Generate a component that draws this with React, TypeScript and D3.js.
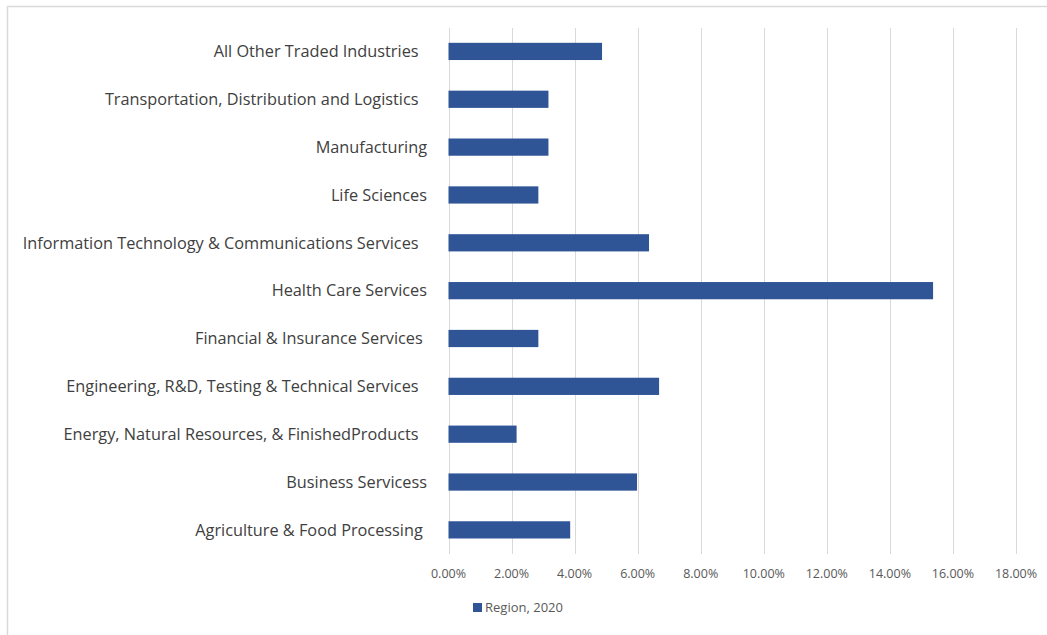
import React, { useRef, useEffect } from 'react';
import * as d3 from 'd3';

// categories listed bottom to top as in the chart
const categories = [
  'Agriculture & Food Processing ',
  'Business Servicess',
  'Energy, Natural Resources, & FinishedProducts  ',
  'Engineering, R&D, Testing & Technical Services  ',
  'Financial & Insurance Services ',
  'Health Care Services',
  'Information Technology & Communications Services  ',
  'Life Sciences',
  'Manufacturing',
  'Transportation, Distribution and Logistics  ',
  'All Other Traded Industries  ',
];

// share, in percent
const region2020 = [3.86, 5.98, 2.16, 6.68, 2.85, 15.37, 6.36, 2.85, 3.17, 3.17, 4.87];

const xTicks = [0, 2, 4, 6, 8, 10, 12, 14, 16, 18];
const seriesName = 'Region, 2020';

const W = 1047;
const H = 635;
const FONT = '"Open Sans", sans-serif';

const App: React.FC = () => {
  const ref = useRef<SVGSVGElement>(null);

  useEffect(() => {
    const svg = d3.select(ref.current);
    svg.selectAll('*').remove();

    const x = d3.scaleLinear().domain([0, 18]).range([448.5, 1016]);
    const y = d3
      .scaleBand<string>()
      .domain(categories.slice().reverse())
      .range([27.5, 553.8])
      .paddingInner(0.64)
      .paddingOuter(0.32);

    // chart border
    svg.append('rect')
      .attr('x', 7.5).attr('y', 6.5)
      .attr('width', W).attr('height', H)
      .attr('fill', '#fff')
      .attr('stroke', '#d9d9d9')
      .attr('stroke-width', 1.5);

    // gridlines
    svg.append('g')
      .selectAll('line')
      .data(xTicks)
      .join('line')
      .attr('x1', d => Math.round(x(d)) + 0.5)
      .attr('x2', d => Math.round(x(d)) + 0.5)
      .attr('y1', 28)
      .attr('y2', 554)
      .attr('stroke', '#d9d9d9')
      .attr('stroke-width', 1);

    // bars
    svg.append('g')
      .selectAll('rect')
      .data(categories)
      .join('rect')
      .attr('x', x(0))
      .attr('y', d => y(d)!)
      .attr('width', (d, i) => x(region2020[i]) - x(0))
      .attr('height', y.bandwidth())
      .attr('fill', '#2F5597');

    // category labels
    svg.append('g')
      .selectAll('text')
      .data(categories)
      .join('text')
      .attr('x', 427)
      .attr('y', d => y(d)! + y.bandwidth() / 2)
      .attr('dy', '0.35em')
      .attr('text-anchor', 'end')
      .style('white-space', 'pre')
      .attr('font-family', FONT)
      .attr('font-size', 16.3)
      .attr('fill', '#404040')
      .text(d => d);

    // x tick labels
    svg.append('g')
      .selectAll('text')
      .data(xTicks)
      .join('text')
      .attr('x', d => x(d))
      .attr('y', 574)
      .attr('dy', '0.35em')
      .attr('text-anchor', 'middle')
      .attr('font-family', FONT)
      .attr('font-size', 12.5)
      .attr('fill', '#595959')
      .text(d => d.toFixed(2) + '%');

    // legend
    const lg = svg.append('g').attr('transform', 'translate(473,603)');
    lg.append('rect').attr('width', 9).attr('height', 9).attr('fill', '#2F5597');
    lg.append('text')
      .attr('x', 12).attr('y', 4.5).attr('dy', '0.35em')
      .attr('font-family', FONT)
      .attr('font-size', 13)
      .attr('fill', '#595959')
      .text(seriesName);
  }, []);

  return (
    <svg
      ref={ref}
      width={W}
      height={H}
      style={{ position: 'absolute', left: 0, top: 0, background: '#fff' }}
    ></svg>
  );
};

export default App;
